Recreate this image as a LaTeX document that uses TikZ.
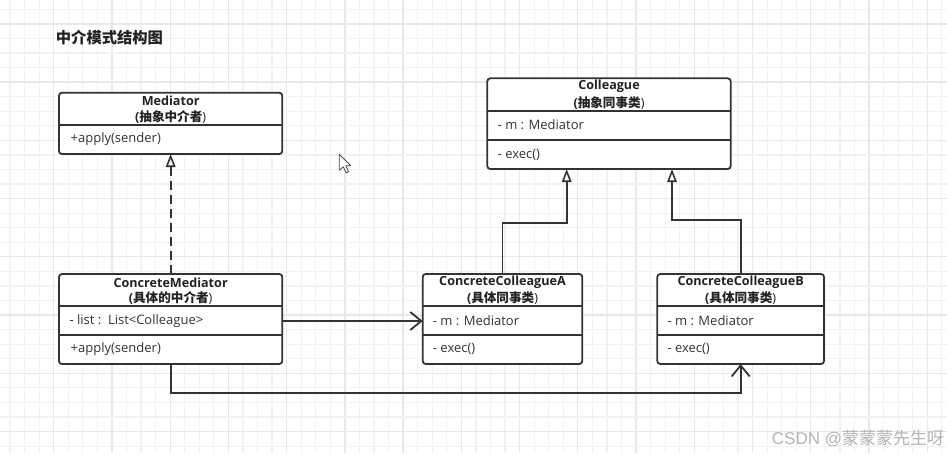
\documentclass[tikz,border=0pt]{standalone}
\usepackage{fontspec}
\setmainfont{Open Sans}
\newfontfamily\cjk{Noto Sans CJK SC}
\usetikzlibrary{arrows.meta}
\definecolor{ln}{HTML}{333333}
\definecolor{gridl}{HTML}{F2F2F2}
\definecolor{gridd}{HTML}{E8E8E8}
\definecolor{txt}{HTML}{222222}
\definecolor{wm}{HTML}{B4B4B4}
\tikzset{
  umlbox/.style={draw=ln, line width=1.8pt, rounded corners=3pt, fill=white, inner sep=0pt, outer sep=0pt},
  divider/.style={draw=ln, line width=1.6pt},
  titletxt/.style={font=\fontsize{12.6}{14}\selectfont\bfseries, text=txt, inner sep=0pt, anchor=center},
  cjktxt/.style={font=\fontsize{12.6}{14}\selectfont\bfseries, text=txt, inner sep=0pt, anchor=center},
  membertxt/.style={font=\fontsize{13}{14}\selectfont, text=ln, inner sep=0pt, anchor=west},
  conn/.style={draw=ln, line width=1.8pt},
  gen/.style={conn, -{Triangle[open, length=13pt, width=9.5pt, line width=1.6pt]}},
  realize/.style={gen, dash pattern=on 9pt off 5pt},
  assoc/.style={conn, -{Straight Barb[length=11pt, width=18pt, line width=1.8pt]}},
}
\begin{document}
\begin{tikzpicture}[x=1pt, y=-1pt]
\useasboundingbox (0,0) rectangle (947,453);
\fill[white] (0,0) rectangle (947,453);
% grid
\foreach \i in {0,...,64} {
  \pgfmathtruncatemacro{\r}{mod(\i,4)}
  \ifnum\r=3
    \draw[gridd, line width=1.3pt] ({10+14.56*\i},0) -- ({10+14.56*\i},453);
  \else
    \draw[gridl, line width=1.2pt] ({10+14.56*\i},0) -- ({10+14.56*\i},453);
  \fi
}
\foreach \j in {0,...,31} {
  \pgfmathtruncatemacro{\r}{mod(\j,4)}
  \ifnum\r=1
    \draw[gridd, line width=1.3pt] (0,{9.3+14.56*\j}) -- (947,{9.3+14.56*\j});
  \else
    \draw[gridl, line width=1.2pt] (0,{9.3+14.56*\j}) -- (947,{9.3+14.56*\j});
  \fi
}

% heading
\node[anchor=west, inner sep=0pt, text=txt, font=\cjk\fontsize{15.3}{17}\selectfont\bfseries] (heading) at (55.7,37.3) {中介模式结构图};

% Mediator
\node[umlbox, minimum width=223.3, minimum height=61.3] (med) at (170.65,123.35) {};
\draw[divider] (59,124.7) -- (282.3,124.7);
\node[titletxt] (medT) at (170.65,101) {Mediator};
\node[cjktxt] (medC) at (170.65,117.2) {(\cjk 抽象中介者\rm)};
\node[membertxt] (medM) at (70.5,139.3) {+apply(sender)};

% Colleague
\node[umlbox, minimum width=243.4, minimum height=90.7] (col) at (609,123.65) {};
\draw[divider] (487.3,110.7) -- (730.7,110.7);
\draw[divider] (487.3,140) -- (730.7,140);
\node[titletxt] (colT) at (609,86) {Colleague};
\node[cjktxt] (colC) at (609,102.6) {(\cjk 抽象同事类\rm)};
\node[membertxt] (colA) at (497.5,125) {- m : Mediator};
\node[membertxt] (colM) at (497.5,155) {- exec()};

% ConcreteMediator
\node[umlbox, minimum width=223.3, minimum height=90] (cm) at (170.65,319) {};
\draw[divider] (59,305.7) -- (282.3,305.7);
\draw[divider] (59,335) -- (282.3,335);
\node[titletxt] (cmT) at (170.65,282.3) {ConcreteMediator};
\node[cjktxt] (cmC) at (170.65,298) {(\cjk 具体的中介者\rm)};
\node[membertxt] (cmA) at (69.3,321) {- list :\ \ List<Colleague>};
\node[membertxt] (cmM) at (70.5,349.3) {+apply(sender)};

% ConcreteColleagueA
\node[umlbox, minimum width=159.6, minimum height=90] (ca) at (502.5,319) {};
\draw[divider] (422.7,305.7) -- (582.3,305.7);
\draw[divider] (422.7,335) -- (582.3,335);
\node[titletxt] (caT) at (502.5,282.3) {ConcreteColleagueA};
\node[cjktxt] (caC) at (502.5,298) {(\cjk 具体同事类\rm)};
\node[membertxt] (caA) at (432.7,321) {- m : Mediator};
\node[membertxt] (caM) at (432.7,349.3) {- exec()};

% ConcreteColleagueB
\node[umlbox, minimum width=166.7, minimum height=90] (cb) at (740.65,319) {};
\draw[divider] (657.3,305.7) -- (824,305.7);
\draw[divider] (657.3,335) -- (824,335);
\node[titletxt] (cbT) at (740.65,282.3) {ConcreteColleagueB};
\node[cjktxt] (cbC) at (740.65,298) {(\cjk 具体同事类\rm)};
\node[membertxt] (cbA) at (667.3,321) {- m : Mediator};
\node[membertxt] (cbM) at (667.3,349.3) {- exec()};

% connectors
\draw[realize] (cm.north) -- (med.south);
\draw[gen] (ca.north) -- ++(0,-51.3) -| ([xshift=-42.3pt]col.south);
\draw[gen] (cb.north) -- ++(0,-54) -| ([xshift=63pt]col.south);
\draw[assoc] ([yshift=-2pt]cm.east) -- ([yshift=-2pt]ca.west);
\draw[assoc] (cm.south) -- ++(0,29.3) -| (cb.south);

% mouse cursor
\draw[fill=white, draw=black!70, line width=0.8pt, line join=round]
  (339.3,154.3) -- ++(0,16) -- ++(4,-3.5) -- ++(2.8,6) -- ++(2.4,-1) -- ++(-2.7,-6) -- ++(5,0) -- cycle;

% watermark
\node[anchor=west, inner sep=0pt, text=wm, font=\fontsize{17}{19}\selectfont] (wmark) at (771.7,439) {\fontspec{Liberation Sans}CSDN @\cjk 蒙蒙蒙先生呀};
\end{tikzpicture}
\end{document}
